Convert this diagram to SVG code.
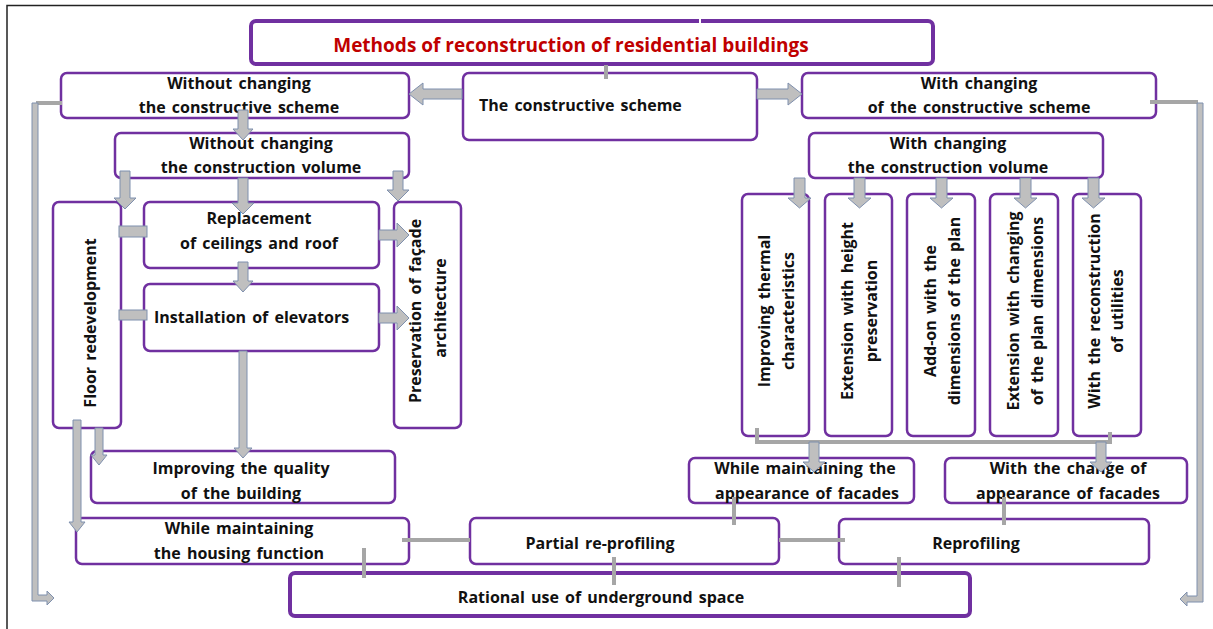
<svg xmlns="http://www.w3.org/2000/svg" width="1213" height="629" viewBox="0 0 1213 629">
  <style>
    .box { fill: #ffffff; stroke: #7030A0; stroke-width: 2.5; }
    .box-heavy { fill: #ffffff; stroke: #7030A0; stroke-width: 4; }
    .t { font-family: "Open Sans", Lato, "Liberation Sans", sans-serif; font-weight: 700; font-size: 16px; word-spacing: 2px; fill: #111111; text-anchor: middle; }
    .ts { text-anchor: start; }
    .title { font-family: "Open Sans", Lato, "Liberation Sans", sans-serif; font-weight: 700; font-size: 19px; fill: #C00000; text-anchor: middle; }
    .fat { fill: #BFBFBF; stroke: #7F90AE; stroke-width: 1; stroke-linejoin: miter; }
    .link { fill: none; stroke: #A6A6A6; stroke-width: 4; }
  </style>

  <rect x="0" y="0" width="1213" height="629" fill="#ffffff"/>
  <!-- page frame -->
  <rect x="7" y="5.5" width="1215" height="640" fill="none" stroke="#222222" stroke-width="1.5"/>

  <!-- nodes -->
  <g id="node-title">
    <rect class="box-heavy" x="251" y="21" width="682" height="43" rx="5"/>
    <text class="title" x="571" y="52">Methods of reconstruction of residential buildings</text>
  </g>

  <g id="node-constructive-scheme">
    <rect class="box" x="463" y="73" width="294" height="67" rx="6"/>
    <text class="t ts" x="479" y="110.5">The constructive scheme</text>
  </g>

  <g id="node-without-scheme">
    <rect class="box" x="61" y="73" width="348" height="45" rx="6"/>
    <text class="t" x="239" y="88.5">Without changing</text>
    <text class="t" x="239" y="112.5">the constructive scheme</text>
  </g>

  <g id="node-with-scheme">
    <rect class="box" x="802" y="73" width="354" height="45" rx="6"/>
    <text class="t" x="979" y="88.5">With changing</text>
    <text class="t" x="979" y="112.5">of the constructive scheme</text>
  </g>

  <g id="node-without-volume">
    <rect class="box" x="115" y="133" width="294" height="45" rx="6"/>
    <text class="t" x="261" y="148.5">Without changing</text>
    <text class="t" x="261" y="172.5">the construction volume</text>
  </g>

  <g id="node-with-volume">
    <rect class="box" x="809" y="133" width="294" height="45" rx="6"/>
    <text class="t" x="948" y="148.5">With changing</text>
    <text class="t" x="948" y="172.5">the construction volume</text>
  </g>

  <g id="node-floor-redevelopment">
    <rect class="box" x="53" y="202" width="68" height="226" rx="6"/>
    <text class="t" transform="translate(95.5,323) rotate(-90)">Floor redevelopment</text>
  </g>

  <g id="node-replacement">
    <rect class="box" x="144" y="202" width="235" height="66" rx="6"/>
    <text class="t" x="259" y="223.5">Replacement</text>
    <text class="t" x="259" y="248.5">of ceilings and roof</text>
  </g>

  <g id="node-elevators">
    <rect class="box" x="144" y="284" width="235" height="67" rx="6"/>
    <text class="t ts" x="154" y="322.5">Installation of elevators</text>
  </g>

  <g id="node-facade-preservation">
    <rect class="box" x="394" y="202" width="67" height="226" rx="6"/>
    <text class="t" transform="translate(420.5,311) rotate(-90)">Preservation of façade</text>
    <text class="t" transform="translate(445.5,308) rotate(-90)">architecture</text>
  </g>

  <g id="node-thermal">
    <rect class="box" x="742" y="194" width="67" height="242" rx="6"/>
    <text class="t" transform="translate(770,311) rotate(-90)">Improving thermal</text>
    <text class="t" transform="translate(794,311) rotate(-90)">characteristics</text>
  </g>

  <g id="node-height-extension">
    <rect class="box" x="825" y="194" width="67" height="242" rx="6"/>
    <text class="t" transform="translate(853,311) rotate(-90)">Extension with height</text>
    <text class="t" transform="translate(877,311) rotate(-90)">preservation</text>
  </g>

  <g id="node-add-on">
    <rect class="box" x="907" y="194" width="68" height="242" rx="6"/>
    <text class="t" transform="translate(936,311) rotate(-90)">Add-on with the</text>
    <text class="t" transform="translate(960,311) rotate(-90)">dimensions of the plan</text>
  </g>

  <g id="node-plan-extension">
    <rect class="box" x="990" y="194" width="68" height="242" rx="6"/>
    <text class="t" transform="translate(1019,311) rotate(-90)">Extension with changing</text>
    <text class="t" transform="translate(1043,311) rotate(-90)">of the plan dimensions</text>
  </g>

  <g id="node-utilities">
    <rect class="box" x="1073" y="194" width="68" height="242" rx="6"/>
    <text class="t" transform="translate(1100,311) rotate(-90)">With the reconstruction</text>
    <text class="t" transform="translate(1123,311) rotate(-90)">of utilities</text>
  </g>

  <g id="node-quality">
    <rect class="box" x="91" y="451" width="304" height="52" rx="6"/>
    <text class="t" x="241" y="473.5">Improving the quality</text>
    <text class="t" x="241" y="498.5">of the building</text>
  </g>

  <g id="node-keep-facades">
    <rect class="box" x="689" y="458" width="225" height="45" rx="6"/>
    <text class="t" x="805" y="473.5">While maintaining the</text>
    <text class="t" x="807" y="498.5">appearance of facades</text>
  </g>

  <g id="node-change-facades">
    <rect class="box" x="945" y="458" width="242" height="45" rx="6"/>
    <text class="t" x="1068" y="473.5">With the change of</text>
    <text class="t" x="1068" y="498.5">appearance of facades</text>
  </g>

  <g id="node-housing-function">
    <rect class="box" x="76" y="518" width="333" height="46" rx="6"/>
    <text class="t" x="239" y="533.5">While maintaining</text>
    <text class="t" x="239" y="558.5">the housing function</text>
  </g>

  <g id="node-partial-reprofiling">
    <rect class="box" x="470" y="518" width="309" height="46" rx="6"/>
    <text class="t" x="600" y="548.5">Partial re-profiling</text>
  </g>

  <g id="node-reprofiling">
    <rect class="box" x="839" y="519" width="310" height="45" rx="6"/>
    <text class="t" x="976" y="548.5">Reprofiling</text>
  </g>

  <g id="node-underground">
    <rect class="box-heavy" x="290" y="573" width="680" height="43" rx="5"/>
    <text class="t" x="601" y="602.5">Rational use of underground space</text>
  </g>

  <!-- connectors -->
  <g id="connectors">
    <!-- plain links -->
    <line x1="700" y1="17" x2="700" y2="23" stroke="#ffffff" stroke-width="2"/>
    <line class="link" x1="606" y1="65" x2="606" y2="79" stroke-width="3"/>
    <line class="link" x1="36" y1="103" x2="62" y2="103"/>
    <line class="link" x1="1150" y1="102" x2="1198" y2="102"/>
    <path class="link" d="M757,428 V442 H1110 V432"/>
    <line class="link" x1="402" y1="540" x2="470" y2="540"/>
    <line class="link" x1="779" y1="540" x2="845" y2="540"/>
    <line class="link" x1="364" y1="548" x2="364" y2="578"/>
    <line class="link" x1="614" y1="557" x2="614" y2="585"/>
    <line class="link" x1="899" y1="557" x2="899" y2="587"/>
    <line class="link" x1="734" y1="497" x2="734" y2="525"/>
    <line class="link" x1="1004" y1="497" x2="1004" y2="525"/>

    <!-- block arrows: scheme split -->
    <polygon class="fat" points="462,89 423,89 423,83 409,94 423,105 423,99 462,99"/>
    <polygon class="fat" points="757,89 788,89 788,83 802,94 788,105 788,99 757,99"/>
    <polygon class="fat" points="238,110 248,110 248,129 253,129 243,140 233,129 238,129"/>

    <!-- block arrows: left branch -->
    <polygon class="fat" points="120,171 130,171 130,198 136,198 125,209 114,198 120,198"/>
    <polygon class="fat" points="238,178 248,178 248,203 254,203 243,214 232,203 238,203"/>
    <polygon class="fat" points="393,171 403,171 403,190 409,190 398,201 387,190 393,190"/>
    <rect class="fat" x="119" y="226" width="28" height="11"/>
    <rect class="fat" x="119" y="310" width="28" height="10"/>
    <polygon class="fat" points="238,262 248,262 248,281 253,281 243,292 233,281 238,281"/>
    <polygon class="fat" points="379,230 397,230 397,223 409,235 397,247 397,240 379,240"/>
    <polygon class="fat" points="379,313 397,313 397,306 409,318 397,330 397,323 379,323"/>
    <polygon class="fat" points="239,351 247,351 247,448 252,448 243,458 234,448 239,448"/>
    <polygon class="fat" points="95,428 103,428 103,455 107,455 99,465 91,455 95,455"/>
    <polygon class="fat" points="73,420 81,420 81,522 85,522 77,532 69,522 73,522"/>

    <!-- block arrows: right branch -->
    <polygon class="fat" points="794,178 805,178 805,198 811,198 799.5,208 788,198 794,198"/>
    <polygon class="fat" points="854,178 865,178 865,198 871,198 859.5,208 848,198 854,198"/>
    <polygon class="fat" points="936,178 947,178 947,198 953,198 941.5,208 930,198 936,198"/>
    <polygon class="fat" points="1020,178 1031,178 1031,198 1037,198 1025.5,208 1014,198 1020,198"/>
    <polygon class="fat" points="1088,178 1099,178 1099,198 1105,198 1093.5,208 1082,198 1088,198"/>
    <polygon class="fat" points="809,442 819,442 819,462 825,462 814,472 803,462 809,462"/>
    <polygon class="fat" points="1096,442 1106,442 1106,462 1112,462 1101,472 1090,462 1096,462"/>

    <!-- long side returns -->
    <polygon class="fat" points="32,103 38,103 38,595 47,595 47,591 54,598 47,605 47,601 32,601"/>
    <polygon class="fat" points="1197,103 1203,103 1203,602 1187,602 1187,606 1180,599 1187,592 1187,596 1197,596"/>
  </g>
</svg>
